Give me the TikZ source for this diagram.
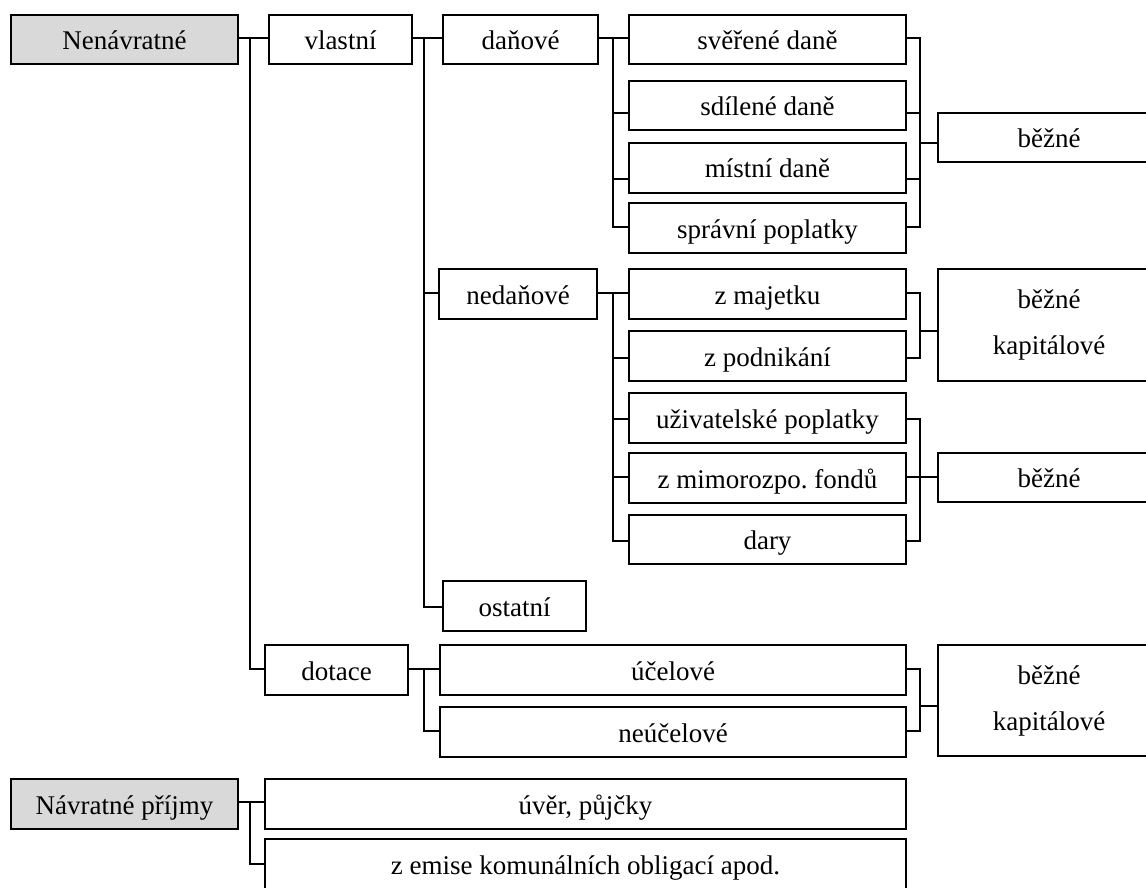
\documentclass[tikz,border=0pt]{standalone}
\usepackage{fontspec}
\setmainfont{Liberation Serif}
\frenchspacing
\definecolor{boxgray}{HTML}{D9D9D9}
\newcommand\mybox[7][box]{%
  \pgfmathsetmacro\myboxw{#5-#3}\pgfmathsetmacro\myboxh{#6-#4}%
  \node[#1,minimum width=\myboxw pt,minimum height=\myboxh pt] (#2) at ({(#3+#5)/2},{(#4+#6)/2}) {#7};}
\begin{document}
\begin{tikzpicture}[x=1pt,y=-1pt,line width=1.8pt,
  box/.style={draw=black,fill=white,inner sep=0pt,outer sep=0pt,
    font=\fontsize{27pt}{32pt}\selectfont,text height=24pt,text depth=4pt},
  gbox/.style={box,fill=boxgray},
  tbox/.style={draw=black,fill=white,inner sep=0pt,outer sep=0pt,align=center,
    font=\fontsize{27pt}{46pt}\selectfont},
  wire/.style={draw=black,line width=1.8pt}]
\useasboundingbox (0,0) rectangle (1146,888);
\fill[white] (0,0) rectangle (1146,888);
\clip (0,0) rectangle (1146,888);
% boxes
\mybox[gbox]{nen}{11}{15}{238}{64}{Nenávratné}
\mybox{vl}{269}{15}{412}{64}{vlastní}
\mybox{dan}{443}{15}{598}{64}{daňové}
\mybox{sv}{629}{15}{906}{64}{svěřené daně}
\mybox{sd}{629}{81}{906}{130}{sdílené daně}
\mybox{mi}{629}{143}{906}{193}{místní daně}
\mybox{spr}{629}{203}{906}{253}{správní poplatky}
\mybox{be1}{938}{113}{1160}{162}{běžné}
\mybox{ned}{439}{269}{597}{319}{nedaňové}
\mybox{maj}{629}{269}{906}{319}{z majetku}
\mybox{pod}{629}{331}{906}{381}{z podnikání}
\mybox{uz}{629}{393}{906}{443}{uživatelské poplatky}
\mybox{fon}{629}{453}{906}{503}{z mimorozpo. fondů}
\mybox{dary}{629}{515}{906}{564}{dary}
\mybox[tbox]{bk1}{938}{269}{1160}{381}{běžné\\kapitálové}
\mybox{be2}{938}{453}{1160}{502}{běžné}
\mybox{ost}{443}{581}{586}{631}{ostatní}
\mybox{dot}{265}{645}{408}{695}{dotace}
\mybox{uc}{440}{645}{906}{695}{účelové}
\mybox{neu}{440}{707}{906}{757}{neúčelové}
\mybox[tbox]{bk2}{938}{645}{1160}{756}{běžné\\kapitálové}
\mybox[gbox]{nav}{11}{779}{238}{829}{Návratné příjmy}
\mybox{uv}{265}{779}{906}{829}{úvěr, půjčky}
\mybox{em}{265}{839}{906}{900}{}
\node[font=\fontsize{27pt}{32pt}\selectfont,text height=24pt,text depth=4pt,inner sep=0pt] (emt) at (585.5,864) {z emise komunálních obligací apod.};
% connectors
\path[wire] (nen.east|-0,38) -- (vl.west|-0,38) (250,38) |- (dot.west|-0,669);
\path[wire] (vl.east|-0,38) -- (dan.west|-0,38) (424,38) |- (ost.west|-0,607)
  (424,293) -- (ned.west|-0,293);
\path[wire] (dan.east|-0,38) -- (sv.west|-0,38) (613,38) |- (spr.west|-0,227)
  (613,113) -- (sd.west|-0,113) (613,179) -- (mi.west|-0,179);
\path[wire] (sv.east|-0,38) -| (920,227) -- (spr.east|-0,227)
  (sd.east|-0,113) -- (920,113) (mi.east|-0,179) -- (920,179)
  (920,143) -- (be1.west|-0,143);
\path[wire] (ned.east|-0,293) -- (maj.west|-0,293) (613,293) |- (dary.west|-0,541)
  (613,358) -- (pod.west|-0,358) (613,419) -- (uz.west|-0,419) (613,477) -- (fon.west|-0,477);
\path[wire] (maj.east|-0,293) -| (920,358) -- (pod.east|-0,358) (920,331) -- (bk1.west|-0,331);
\path[wire] (uz.east|-0,419) -| (920,541) -- (dary.east|-0,541) (fon.east|-0,477) -- (be2.west|-0,477);
\path[wire] (dot.east|-0,669) -- (uc.west|-0,669) (424,669) |- (neu.west|-0,731);
\path[wire] (uc.east|-0,669) -| (920,731) -- (neu.east|-0,731) (920,706) -- (bk2.west|-0,706);
\path[wire] (nav.east|-0,802) -- (uv.west|-0,802) (250,802) |- (em.west|-0,864);
\end{tikzpicture}
\end{document}
